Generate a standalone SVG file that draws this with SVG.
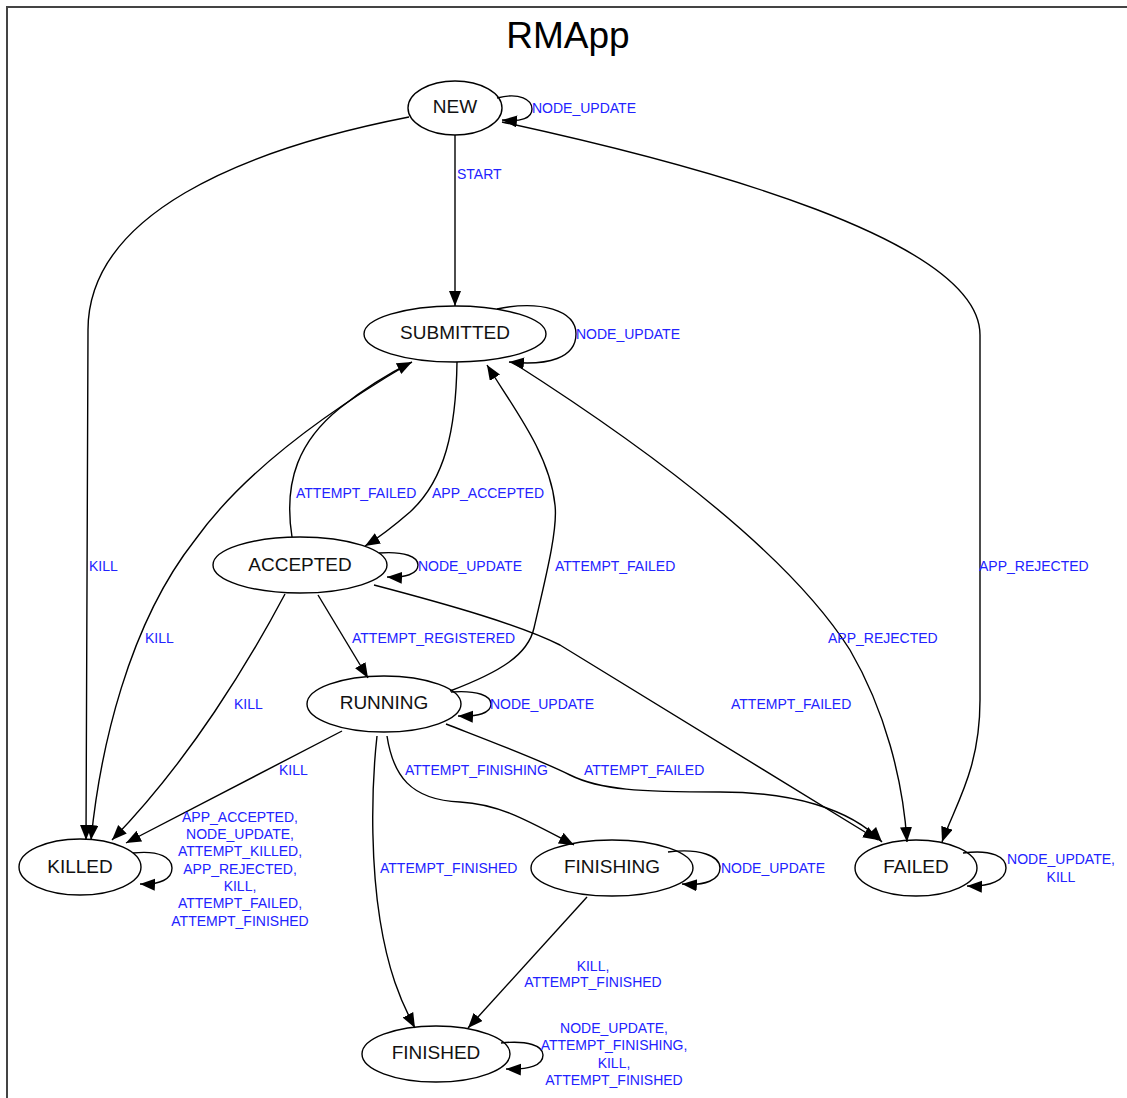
<svg xmlns="http://www.w3.org/2000/svg" width="1127" height="1098" viewBox="0 0 1127 1098">
  <defs>
    <marker id="arrow" markerUnits="userSpaceOnUse" markerWidth="16" markerHeight="13" refX="15" refY="6" orient="auto">
      <path d="M0,0 L15,6 L0,12 z" fill="#000"/>
    </marker>
    <style>
      .frame { fill: #fff; stroke: #444; stroke-width: 2; }
      .title { font-family: "Liberation Sans", Arial, sans-serif; font-size: 37px; fill: #000; text-anchor: middle; }
      .node ellipse { fill: none; stroke: #000; stroke-width: 1.4; }
      .node text { font-family: "Liberation Sans", Arial, sans-serif; font-size: 19px; fill: #111; text-anchor: middle; }
      .edges path { fill: none; stroke: #000; stroke-width: 1.4; marker-end: url(#arrow); }
      .elabel { font-family: "Liberation Sans", Arial, sans-serif; font-size: 14px; fill: #2222ff; }
      .mid { text-anchor: middle; }
    </style>
  </defs>

  <rect x="0" y="0" width="1127" height="1098" fill="#fff"/>
  <rect class="frame" x="7" y="7" width="1200" height="1200"/>
  <text class="title" x="568" y="48">RMApp</text>

  <!-- transitions -->
  <g id="edges" class="edges">
    <!-- NEW -->
    <path d="M 497,98 C 520,92 532,100 532,109 C 532,118 522,122 502,120"/>
    <path d="M 455,135 L 455,306"/>
    <path d="M 409,117 C 240,150 88,215 88,330 L 86,840"/>
    <path d="M 502,122 C 700,165 980,240 980,335 L 980,700 C 980,770 955,805 942,842"/>
    <!-- SUBMITTED -->
    <path d="M 497,309 C 540,300 576,310 576,334 C 576,358 548,366 509,362"/>
    <path d="M 457,362 C 456,430 445,480 410,512 C 395,525 380,537 365,546"/>
    <path d="M 410,363 C 330,410 245,470 195,540 C 128,625 100,750 91,840"/>
    <path d="M 512,362 C 650,450 790,555 850,650 C 885,710 903,780 907,842"/>
    <!-- ACCEPTED -->
    <path d="M 292,537 C 283,480 300,440 340,408 C 365,388 390,373 412,362"/>
    <path d="M 379,553 C 405,551 418,557 418,565 C 418,574 405,578 387,577"/>
    <path d="M 318,595 L 368,678"/>
    <path d="M 285,594 C 250,660 190,760 112,840"/>
    <path d="M 374,585 C 450,605 520,625 560,645 L 878,840"/>
    <!-- RUNNING -->
    <path d="M 450,691 C 500,672 528,655 534,628 C 545,580 558,530 555,505 C 550,455 515,410 487,365"/>
    <path d="M 451,692 C 478,690 491,696 491,704 C 491,713 478,717 458,716"/>
    <path d="M 342,731 L 126,843"/>
    <path d="M 387,736 C 393,775 410,800 460,802 C 500,804 530,822 574,845"/>
    <path d="M 377,736 C 370,800 372,870 380,920 C 388,970 400,1000 415,1028"/>
    <path d="M 446,724 C 500,745 540,760 570,775 C 600,790 640,792 720,792 C 790,792 850,808 882,842"/>
    <!-- terminal and finishing states -->
    <path d="M 133,853 C 160,850 172,858 172,868 C 172,879 160,885 140,884"/>
    <path d="M 668,852 C 700,848 720,856 720,868 C 720,880 705,886 682,884"/>
    <path d="M 587,897 L 468,1028"/>
    <path d="M 963,853 C 992,849 1006,857 1006,868 C 1006,880 990,887 967,886"/>
    <path d="M 501,1043 C 528,1040 543,1046 543,1055 C 543,1065 530,1070 506,1069"/>
  </g>

  <!-- transition labels -->
  <g id="edge-labels">
    <text class="elabel" x="532" y="113">NODE_UPDATE</text>
    <text class="elabel" x="457" y="179">START</text>
    <text class="elabel" x="89" y="571">KILL</text>
    <text class="elabel" x="979" y="571">APP_REJECTED</text>
    <text class="elabel" x="576" y="339">NODE_UPDATE</text>
    <text class="elabel" x="432" y="498">APP_ACCEPTED</text>
    <text class="elabel" x="145" y="643">KILL</text>
    <text class="elabel" x="828" y="643">APP_REJECTED</text>
    <text class="elabel" x="296" y="498">ATTEMPT_FAILED</text>
    <text class="elabel" x="418" y="571">NODE_UPDATE</text>
    <text class="elabel" x="352" y="643">ATTEMPT_REGISTERED</text>
    <text class="elabel" x="234" y="709">KILL</text>
    <text class="elabel" x="731" y="709">ATTEMPT_FAILED</text>
    <text class="elabel" x="555" y="571">ATTEMPT_FAILED</text>
    <text class="elabel" x="490" y="709">NODE_UPDATE</text>
    <text class="elabel" x="279" y="775">KILL</text>
    <text class="elabel" x="405" y="775">ATTEMPT_FINISHING</text>
    <text class="elabel" x="380" y="873">ATTEMPT_FINISHED</text>
    <text class="elabel" x="584" y="775">ATTEMPT_FAILED</text>
    <text class="elabel mid" x="240" y="822">APP_ACCEPTED,</text>
    <text class="elabel mid" x="240" y="839">NODE_UPDATE,</text>
    <text class="elabel mid" x="240" y="856">ATTEMPT_KILLED,</text>
    <text class="elabel mid" x="240" y="874">APP_REJECTED,</text>
    <text class="elabel mid" x="240" y="891">KILL,</text>
    <text class="elabel mid" x="240" y="908">ATTEMPT_FAILED,</text>
    <text class="elabel mid" x="240" y="926">ATTEMPT_FINISHED</text>
    <text class="elabel" x="721" y="873">NODE_UPDATE</text>
    <text class="elabel mid" x="593" y="971">KILL,</text>
    <text class="elabel mid" x="593" y="987">ATTEMPT_FINISHED</text>
    <text class="elabel mid" x="1061" y="864">NODE_UPDATE,</text>
    <text class="elabel mid" x="1061" y="882">KILL</text>
    <text class="elabel mid" x="614" y="1033">NODE_UPDATE,</text>
    <text class="elabel mid" x="614" y="1050">ATTEMPT_FINISHING,</text>
    <text class="elabel mid" x="614" y="1068">KILL,</text>
    <text class="elabel mid" x="614" y="1085">ATTEMPT_FINISHED</text>
  </g>

  <!-- states -->
  <g id="NEW" class="node"><ellipse cx="455" cy="108" rx="47" ry="27"/><text x="455" y="113">NEW</text></g>
  <g id="SUBMITTED" class="node"><ellipse cx="455" cy="334" rx="91" ry="28"/><text x="455" y="339">SUBMITTED</text></g>
  <g id="ACCEPTED" class="node"><ellipse cx="300" cy="565" rx="87" ry="28"/><text x="300" y="571">ACCEPTED</text></g>
  <g id="RUNNING" class="node"><ellipse cx="384" cy="704" rx="77" ry="28"/><text x="384" y="709">RUNNING</text></g>
  <g id="KILLED" class="node"><ellipse cx="80" cy="867" rx="61" ry="28"/><text x="80" y="873">KILLED</text></g>
  <g id="FINISHING" class="node"><ellipse cx="612" cy="868" rx="81" ry="28"/><text x="612" y="873">FINISHING</text></g>
  <g id="FAILED" class="node"><ellipse cx="916" cy="868" rx="61" ry="28"/><text x="916" y="873">FAILED</text></g>
  <g id="FINISHED" class="node"><ellipse cx="436" cy="1054" rx="74" ry="28"/><text x="436" y="1059">FINISHED</text></g>
</svg>
